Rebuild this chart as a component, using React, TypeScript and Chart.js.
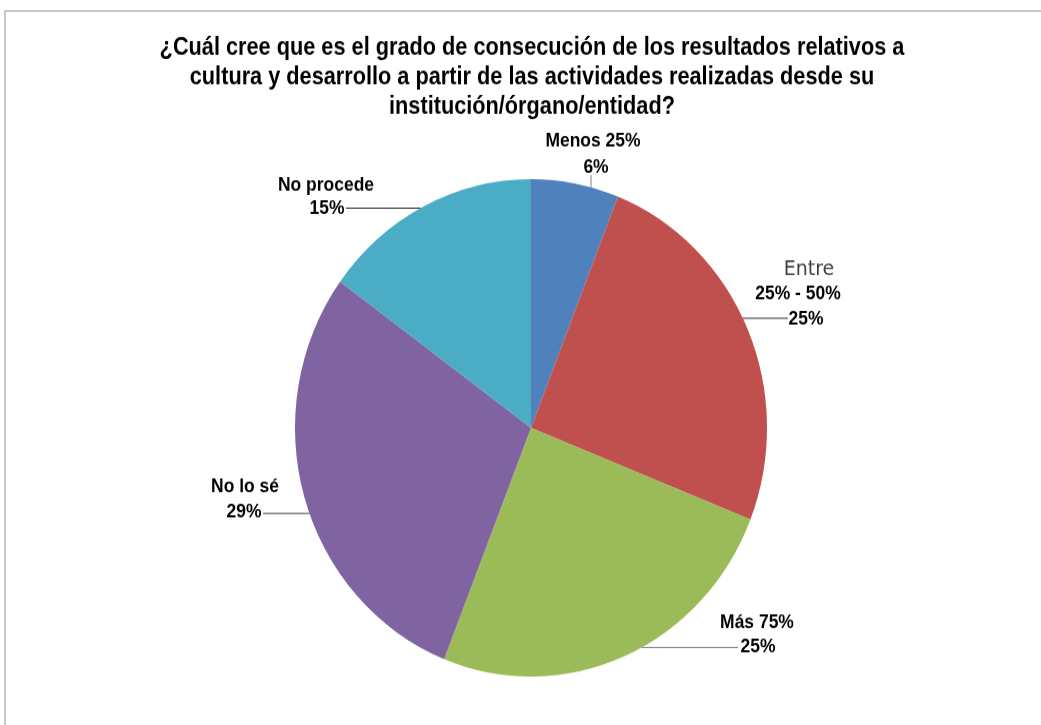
import React, { useEffect, useRef } from "react";
import { Chart, registerables } from "chart.js";

Chart.register(...registerables);

const categories = ["Menos 25%", "Entre 25% - 50%", "Más 75%", "No lo sé", "No procede"];
const values = [6, 25, 25, 29, 15];
const colors = ["#4F81BD", "#C0504D", "#9BBB59", "#8064A2", "#4BACC6"];
const titleLines = [
  "¿Cuál cree que es el grado de consecución de los resultados relativos a",
  "cultura y desarrollo a partir de las actividades realizadas desde su",
  "institución/órgano/entidad?",
];

// layout (unscaled canvas coordinates)
const W = 1041;
const H = 688;
const STRETCH = 725 / 688;
const TITLE_Y = [45, 73, 101];
const TITLE_X = 532;
const TITLE_FONT = "bold 24px 'Liberation Sans', Arial, sans-serif";
const TITLE_SX = 0.905;
const LABEL_FONT = "bold 18px 'Liberation Sans', Arial, sans-serif";
const LABEL_SX = 0.97;

type Leader = { dir: "h" | "v"; at: number; end: number; color: string };
type LabelLayout = {
  lines: { text: string; x: number; y: number; font?: string; color?: string; sx?: number }[];
  leader: Leader;
};

const labelLayout = (i: number): LabelLayout => {
  const pct = `${values[i]}%`;
  switch (i) {
    case 0:
      return {
        lines: [
          { text: categories[0], x: 593, y: 134 },
          { text: pct, x: 596, y: 158.6 },
        ],
        leader: { dir: "v", at: 591, end: 166, color: "#808080" },
      };
    case 1:
      return {
        lines: [
          { text: "Entre", x: 809, y: 256, font: "19px 'DejaVu Sans', sans-serif", color: "#404040", sx: 1 },
          { text: "25% - 50%", x: 798, y: 279.5 },
          { text: pct, x: 806, y: 303.5 },
        ],
        leader: { dir: "h", at: 302, end: 788, color: "#222222" },
      };
    case 2:
      return {
        lines: [
          { text: categories[2], x: 757, y: 590.7 },
          { text: pct, x: 758, y: 614.4 },
        ],
        leader: { dir: "h", at: 614.4, end: 738, color: "#777777" },
      };
    case 3:
      return {
        lines: [
          { text: categories[3], x: 245, y: 462.5 },
          { text: pct, x: 244, y: 486.5 },
        ],
        leader: { dir: "h", at: 487.2, end: 263, color: "#444444" },
      };
    default:
      return {
        lines: [
          { text: categories[4], x: 326, y: 175.7 },
          { text: pct, x: 327, y: 198.5 },
        ],
        leader: { dir: "h", at: 197.5, end: 346, color: "#222222" },
      };
  }
};

const labelPlugin = {
  id: "customLabels",
  afterDraw(chart: any) {
    const ctx = chart.ctx as CanvasRenderingContext2D;
    ctx.save();
    ctx.textAlign = "center";
    ctx.textBaseline = "middle";
    ctx.fillStyle = "#000";
    ctx.font = TITLE_FONT;
    titleLines.forEach((t, k) => {
      ctx.save();
      ctx.translate(TITLE_X, TITLE_Y[k]);
      ctx.scale(TITLE_SX, 1);
      ctx.fillText(t, 0, 0);
      ctx.restore();
    });

    const meta = chart.getDatasetMeta(0);
    const arc0 = meta.data[0];
    const cx = arc0.x;
    const cy = arc0.y;
    const r = arc0.outerRadius;
    values.forEach((_, i) => {
      const L = labelLayout(i);
      ctx.strokeStyle = L.leader.color;
      ctx.lineWidth = 1;
      ctx.beginPath();
      if (L.leader.dir === "h") {
        const dy = L.leader.at - cy;
        const dx = Math.sqrt(Math.max(0, r * r - dy * dy));
        const sx = L.leader.end < cx ? cx - dx : cx + dx;
        ctx.moveTo(L.leader.end, L.leader.at);
        ctx.lineTo(sx, L.leader.at);
      } else {
        const dx = L.leader.at - cx;
        const dy = Math.sqrt(Math.max(0, r * r - dx * dx));
        const sy = L.leader.end < cy ? cy - dy : cy + dy;
        ctx.moveTo(L.leader.at, L.leader.end);
        ctx.lineTo(L.leader.at, sy);
      }
      ctx.stroke();
      L.lines.forEach((ln) => {
        ctx.font = ln.font || LABEL_FONT;
        ctx.fillStyle = ln.color || "#000";
        ctx.save();
        ctx.translate(ln.x, ln.y);
        ctx.scale(ln.sx ?? LABEL_SX, 1);
        ctx.fillText(ln.text, 0, 0);
        ctx.restore();
      });
    });
    ctx.restore();
  },
};

export default function App() {
  const ref = useRef<HTMLCanvasElement>(null);
  useEffect(() => {
    if (!ref.current) return;
    const chart = new Chart(ref.current, {
      type: "pie",
      data: {
        labels: categories,
        datasets: [
          {
            data: values,
            backgroundColor: colors,
            borderWidth: 0,
          },
        ],
      },
      options: {
        animation: false,
        responsive: false,
        maintainAspectRatio: false,
        layout: { padding: { top: 170, left: 295, right: 274, bottom: 46 } },
        plugins: {
          legend: { display: false },
          tooltip: { enabled: false },
          title: { display: false },
        },
      },
      plugins: [labelPlugin],
    });
    return () => chart.destroy();
  }, []);

  return (
    <div style={{ position: "fixed", left: 0, top: 0, width: 1041, height: 725, overflow: "hidden", background: "#fff" }}>
      <div
        style={{
          position: "absolute",
          left: 4,
          top: 10,
          width: 1100,
          height: 800,
          borderTop: "2px solid #c8c8c8",
          borderLeft: "2px solid #c8c8c8",
        }}
      />
      <div style={{ position: "absolute", left: 0, top: 0, width: W, height: H, transform: `scale(1, ${STRETCH})`, transformOrigin: "0 0" }}>
        <canvas ref={ref} width={W} height={H} style={{ display: "block", width: W, height: H }} />
      </div>
    </div>
  );
}
